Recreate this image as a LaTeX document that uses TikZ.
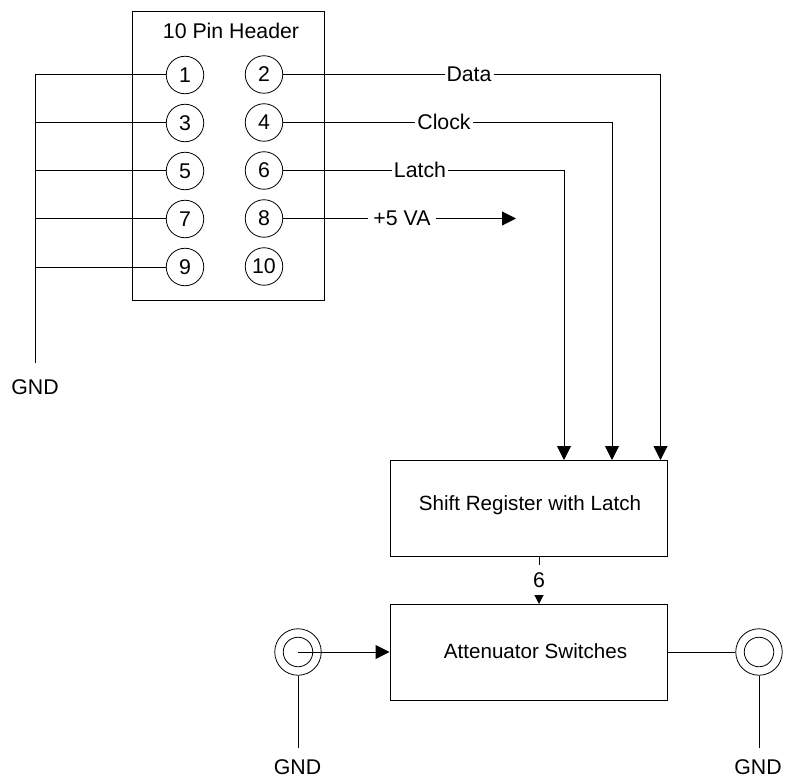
\documentclass[tikz,border=0pt]{standalone}
\usepackage{fontspec}
\setmainfont{Liberation Sans}
\usetikzlibrary{arrows.meta}
\tikzset{
  x=1pt,y=-1pt,
  wire/.style={line width=1pt,draw=black},
  arr/.style={wire,-{Triangle[length=14pt,width=14pt]},shorten >=0pt},
  smallarr/.style={wire,-{Triangle[length=9pt,width=9pt]}},
  pin/.style={circle,draw,line width=0.8pt,minimum size=37.5pt,inner sep=0pt,font=\fontsize{21.3}{24}\selectfont,fill=white},
  block/.style={draw,line width=1pt,minimum width=277pt,minimum height=96pt,inner sep=0pt},
  txt/.style={font=\fontsize{21.3}{24}\selectfont,inner sep=0pt},
  blocktxt/.style={font=\fontsize{20.6}{24}\selectfont,inner sep=0pt},
  wlabel/.style={txt,fill=white,inner xsep=2pt,inner ysep=3pt},
  jackout/.style={circle,draw,line width=0.8pt,minimum size=46.5pt,inner sep=0pt},
  jackin/.style={circle,draw,line width=0.8pt,minimum size=29.5pt,inner sep=0pt},
}
\begin{document}
\begin{tikzpicture}
\useasboundingbox (0,0) rectangle (804,781);
% header
\node[draw,line width=1pt,minimum width=192pt,minimum height=288pt,inner sep=0pt] (hdr) at (228,156) {};
\node[txt] (hdrtxt) at (231,31) {10 Pin Header};
% bus
\coordinate (bustop) at (35,75);
\coordinate (busbot) at (35,363);
\coordinate (b3) at (35,123);
\coordinate (b5) at (35,171);
\coordinate (b7) at (35,219);
\coordinate (b9) at (35,267);
\draw[wire] (busbot) -- (bustop);
% pins
\node[pin] (p1) at (185,75) {1};
\node[pin] (p3) at (185,123) {3};
\node[pin] (p5) at (185,171) {5};
\node[pin] (p7) at (185,219) {7};
\node[pin] (p9) at (185,267) {9};
\node[pin] (p2) at (264,74.5) {2};
\node[pin] (p4) at (264,122.5) {4};
\node[pin] (p6) at (264,170.5) {6};
\node[pin] (p8) at (264,218.5) {8};
\node[pin] (p10) at (264,266.5) {10};
\draw[wire] (bustop) -- (p1.west);
\draw[wire] (b3) -- (p3.west);
\draw[wire] (b5) -- (p5.west);
\draw[wire] (b7) -- (p7.west);
\draw[wire] (b9) -- (p9.west);
\node[txt] (gnd1) at (35,387) {GND};
% blocks
\node[block] (shift) at (528.5,508) {};
\node[block] (att) at (528.5,652) {};
\node[blocktxt] (shifttxt) at (530,505) {Shift Register with Latch};
\node[blocktxt] (atttxt) at (535.5,651.5) {Attenuator Switches};
% signal wires
\coordinate (dtop) at (660.5,74.5);
\coordinate (ctop) at (612,122.5);
\coordinate (ltop) at (564,170.5);
\coordinate (dbot) at (660.5,460);
\coordinate (cbot) at (612,460);
\coordinate (lbot) at (564,460);
\coordinate (vend) at (516,218.5);
\draw[arr] (p2.east) -- (dtop) -- (dbot);
\draw[arr] (p4.east) -- (ctop) -- (cbot);
\draw[arr] (p6.east) -- (ltop) -- (lbot);
\draw[arr] (p8.east) -- (vend);
\node[wlabel] (ldata) at (469,74) {Data};
\node[wlabel] (lclock) at (444,122) {Clock};
\node[wlabel] (llatch) at (420,170) {Latch};
\node[wlabel,inner xsep=5pt] (lv) at (402,218) {+5 VA};
% shift to attenuator
\coordinate (sb) at (539,556);
\coordinate (at) at (539,604);
\draw[smallarr] (sb) -- (at);
\node[txt,fill=white,minimum width=14pt,minimum height=30pt] (six) at (539,580) {6};
% jacks
\node[jackout] (jlo) at (298,652) {};
\node[jackin] (jli) at (298,652) {};
\node[jackout] (jro) at (759,652) {};
\node[jackin] (jri) at (759,652) {};
\draw[arr] (jli.center) -- (att.west);
\draw[wire] (att.east) -- (jro.west);
\node[txt] (gnd2) at (297.5,767) {GND};
\node[txt] (gnd3) at (758,767) {GND};
\coordinate (g2) at (298,748);
\coordinate (g3) at (759,748);
\draw[wire] (jlo.south) -- (g2);
\draw[wire] (jro.south) -- (g3);
\end{tikzpicture}
\end{document}
